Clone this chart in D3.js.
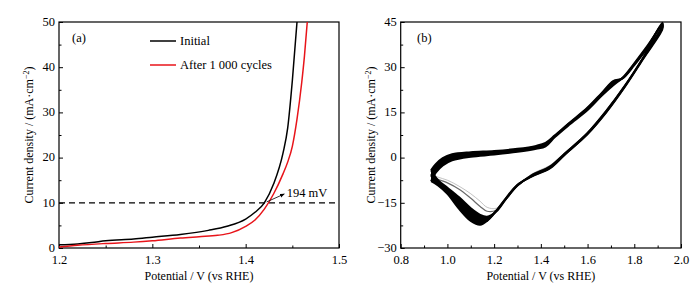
<!DOCTYPE html>
<html>
<head>
<meta charset="utf-8">
<script src="https://cdn.jsdelivr.net/npm/d3@7"></script>
<style>
  body { margin: 0; background: #fff; }
  text { font-family: "Liberation Serif", "DejaVu Serif", serif; fill: #000; }
</style>
</head>
<body>
<div id="chart-area"></div>
<script>
// (a) LSV curves
const lsvInitialV = [1.2, 1.22, 1.235, 1.25, 1.28, 1.3, 1.33, 1.36, 1.38, 1.40, 1.41, 1.42, 1.43, 1.44, 1.445, 1.45, 1.455]
const lsvInitialJ = [0.7, 0.9, 1.2, 1.6, 2.0, 2.4, 3.0, 3.9, 4.8, 6.4, 7.9, 10.0, 14.2, 21, 26.5, 37, 50]
const lsvAfterV = [1.2, 1.22, 1.25, 1.28, 1.3, 1.33, 1.35, 1.37, 1.385, 1.40, 1.41, 1.42, 1.43, 1.44, 1.445, 1.45, 1.455, 1.46, 1.463, 1.466]
const lsvAfterJ = [0.2, 0.6, 1.0, 1.3, 1.6, 2.2, 2.5, 2.8, 3.4, 4.8, 6.2, 8.6, 12.0, 16.4, 19.0, 22.5, 28.5, 36.5, 42.5, 50]
const lsvSeries = ["Initial", "After 1 000 cycles"]
const lsvXTicks = [1.2, 1.3, 1.4, 1.5]
const lsvXMinor = [1.25, 1.35, 1.45]
const lsvYTicks = [0, 10, 20, 30, 40, 50]
const lsvYMinor = [5, 15, 25, 35, 45]

// (b) CV cycles: two early (grey) cycles, then three late (black) cycles
const cvAnodicV = [0.93, 0.95, 0.98, 1.02, 1.1, 1.2, 1.3, 1.38, 1.42, 1.46, 1.52, 1.6, 1.66, 1.71, 1.75, 1.8, 1.86, 1.92]
const cvCathodicV = [1.92, 1.84, 1.76, 1.68, 1.6, 1.5, 1.44, 1.36, 1.3, 1.25, 1.21, 1.17, 1.14, 1.1, 1.05, 1.0, 0.96, 0.93]
const cvAnodic1 = [-5.5, -3.2, -1.0, 0.4, 1.3, 1.8, 2.5, 3.5, 4.4, 7.4, 11.4, 16.8, 21.6, 25.6, 26.2, 30.8, 37.0, 44.5]
const cvAnodic2 = [-6, -3.6, -1.4, 0.1, 1.1, 1.6, 2.4, 3.4, 4.3, 7.2, 11.3, 16.5, 21.3, 25.3, 26.2, 30.9, 37.1, 44.4]
const cvAnodic3 = [-4.2, -2.2, -0.2, 1.1, 1.8, 2.2, 2.9, 3.9, 4.9, 7.4, 11.4, 16.6, 21.4, 25.4, 26.3, 30.7, 36.9, 44.8]
const cvAnodic4 = [-6, -3.6, -1.4, 0.1, 1.1, 1.6, 2.4, 3.4, 4.3, 7.1, 11.2, 16.2, 20.9, 24.6, 26.4, 31.0, 37.2, 44.4]
const cvAnodic5 = [-7.8, -5.0, -2.6, -0.9, 0.3, 1.0, 1.9, 2.9, 3.7, 6.8, 10.8, 15.8, 20.5, 24, 26.5, 31.3, 37.5, 44]
const cvCathodic1 = [44, 33.5, 24, 15.8, 8.5, 1.5, -2.5, -5.5, -9.5, -13.8, -16.8, -16.5, -14.5, -12, -9.5, -7.5, -6.5, -5.5]
const cvCathodic2 = [43.8, 33.4, 23.9, 15.6, 8.3, 1.3, -2.8, -5.8, -9.4, -13.9, -17.4, -17.8, -16.2, -13.5, -10.5, -8.4, -7.2, -6]
const cvCathodic3 = [43.8, 33.4, 23.9, 15.5, 8.2, 1.2, -2.9, -5.9, -9.3, -13.8, -17.8, -19.6, -19.0, -16.8, -13.2, -10, -7.5, -4.2]
const cvCathodic4 = [43.2, 33.2, 23.7, 15.2, 7.9, 0.9, -3.3, -6.2, -9.1, -13.7, -17.7, -20.8, -21.2, -19.2, -15.2, -11, -8.4, -6]
const cvCathodic5 = [42.6, 33, 23.5, 15, 7.8, 0.8, -3.5, -6.3, -9, -13.5, -17.5, -21, -22.3, -21, -17, -12, -9.2, -7.8]
const cvXTicks = [0.8, 1.0, 1.2, 1.4, 1.6, 1.8, 2.0]
const cvXMinor = [0.9, 1.1, 1.3, 1.5, 1.7, 1.9]
const cvYTicks = [-30, -15, 0, 15, 30, 45]
const cvYMinor = [-22.5, -7.5, 7.5, 22.5, 37.5]

const WIDTH = 700
const HEIGHT = 291
const TOP = 22, BOTTOM = 248

const svg = d3.select("#chart-area").append("svg")
  .attr("width", WIDTH)
  .attr("height", HEIGHT)

function drawFrame(x, y, xTicks, xMinor, yTicks, yMinor, xFmt) {
  const [x0, x1] = x.range()
  svg.append("g")
    .attr("transform", `translate(0, ${BOTTOM})`)
    .call(d3.axisBottom(x).tickValues(xTicks).tickFormat(xFmt).tickSizeInner(-4).tickSizeOuter(0).tickPadding(7))
    .call(g => g.select(".domain").remove())
    .call(g => g.selectAll("text").attr("font-size", "12.5px").attr("font-family", null))
  svg.append("g")
    .attr("transform", `translate(0, ${BOTTOM})`)
    .call(d3.axisBottom(x).tickValues(xMinor).tickFormat("").tickSizeInner(-2.5).tickSizeOuter(0))
    .call(g => g.select(".domain").remove())
  svg.append("g")
    .attr("transform", `translate(${x0}, 0)`)
    .call(d3.axisLeft(y).tickValues(yTicks).tickSizeInner(-4).tickSizeOuter(0).tickPadding(4))
    .call(g => g.select(".domain").remove())
    .call(g => g.selectAll("text").attr("font-size", "12.5px").attr("font-family", null).attr("dy", "0.26em"))
  svg.append("g")
    .attr("transform", `translate(${x0}, 0)`)
    .call(d3.axisLeft(y).tickValues(yMinor).tickFormat("").tickSizeInner(-2.5).tickSizeOuter(0))
    .call(g => g.select(".domain").remove())
  svg.append("rect")
    .attr("x", x0).attr("y", TOP)
    .attr("width", x1 - x0).attr("height", BOTTOM - TOP)
    .attr("fill", "none").attr("stroke", "#000").attr("stroke-width", 1.2)
  svg.selectAll(".tick line").attr("stroke", "#000").attr("stroke-width", 1)

  // axis titles
  svg.append("text")
    .attr("x", (x0 + x1) / 2).attr("y", 280)
    .attr("text-anchor", "middle").attr("font-size", "12px")
    .text("Potential / V (vs RHE)")
  const yl = svg.append("text")
    .attr("transform", `translate(${x0 - 26}, ${(TOP + BOTTOM) / 2}) rotate(-90)`)
    .attr("text-anchor", "middle").attr("font-size", "12px")
  yl.append("tspan").text("Current density / (mA·cm")
  yl.append("tspan").attr("font-size", "8px").attr("dy", -4).text("−2")
  yl.append("tspan").attr("dy", 4).text(")")
}

// ---- panel (a)
const xA = d3.scaleLinear().domain([1.2, 1.5]).range([59, 339])
const yA = d3.scaleLinear().domain([0, 50]).range([BOTTOM, TOP])
drawFrame(xA, yA, lsvXTicks, lsvXMinor, lsvYTicks, lsvYMinor, d3.format(".1f"))

svg.append("line")
  .attr("x1", xA(1.2)).attr("x2", xA(1.5))
  .attr("y1", yA(10)).attr("y2", yA(10))
  .attr("stroke", "#000").attr("stroke-width", 1.2)
  .attr("stroke-dasharray", "6,4")

const lineA = d3.line()
  .x(d => xA(d[0])).y(d => yA(d[1]))
  .curve(d3.curveMonotoneX)

const lsvColors = ["#000", "#e8141a"]
const lsvData = [
  d3.zip(lsvInitialV, lsvInitialJ),
  d3.zip(lsvAfterV, lsvAfterJ)
]
svg.append("g").selectAll("path")
  .data(lsvData)
  .enter().append("path")
  .attr("d", lineA)
  .attr("fill", "none")
  .attr("stroke", (d, i) => lsvColors[i])
  .attr("stroke-width", 1.5)

// legend
lsvSeries.forEach((name, i) => {
  const ly = 41 + i * 24
  svg.append("line")
    .attr("x1", 150).attr("x2", 176).attr("y1", ly).attr("y2", ly)
    .attr("stroke", lsvColors[i]).attr("stroke-width", 1.5)
  svg.append("text")
    .attr("x", 180).attr("y", ly + 4)
    .attr("font-size", "12.5px")
    .text(name)
})

svg.append("text").attr("x", 72).attr("y", 42).attr("font-size", "12.5px").text("(a)")

// annotation arrow
svg.append("defs").append("marker")
  .attr("id", "arrow").attr("viewBox", "0 0 10 10")
  .attr("refX", 9).attr("refY", 5)
  .attr("markerWidth", 6).attr("markerHeight", 6)
  .attr("orient", "auto")
  .append("path").attr("d", "M0,1 L10,5 L0,9 Z").attr("fill", "#000")
svg.append("line")
  .attr("x1", xA(1.4225)).attr("y1", yA(10.2))
  .attr("x2", xA(1.4414)).attr("y2", yA(11.95))
  .attr("stroke", "#000").attr("stroke-width", 0.8)
  .attr("marker-end", "url(#arrow)")
svg.append("text")
  .attr("x", xA(1.444)).attr("y", 197)
  .attr("font-size", "12.5px")
  .text("194 mV")

// ---- panel (b)
const xB = d3.scaleLinear().domain([0.8, 2.0]).range([400.7, 681])
const yB = d3.scaleLinear().domain([-30, 45]).range([BOTTOM, TOP])
drawFrame(xB, yB, cvXTicks, cvXMinor, cvYTicks, cvYMinor, d3.format(".1f"))

const curveB = d3.curveCatmullRom.alpha(0.5)
const lineB = d3.line()
  .x(d => xB(d[0])).y(d => yB(d[1]))
  .curve(curveB)

const cvCycles = [
  [cvAnodic1, cvCathodic1],
  [cvAnodic2, cvCathodic2],
  [cvAnodic3, cvCathodic3],
  [cvAnodic4, cvCathodic4],
  [cvAnodic5, cvCathodic5]
]
const cvColors = ["#b4b4b4", "#6a6a6a", "#000", "#000", "#000"]
const cvWidths = [0.8, 1.2, 2, 2, 2]

// early cycles (thin, grey)
const gB = svg.append("g")
gB.selectAll("path.early")
  .data(cvCycles.slice(0, 2))
  .enter().append("path")
  .attr("class", "early")
  .attr("d", c => lineB(d3.zip(cvAnodicV, c[0]).concat(d3.zip(cvCathodicV, c[1]))))
  .attr("fill", "none")
  .attr("stroke", (d, i) => cvColors[i])
  .attr("stroke-width", (d, i) => cvWidths[i])

// band swept by the later cycles (between cycle 3 and cycle 5)
const bandB = d3.area()
  .x(d => xB(d[0])).y0(d => yB(d[1])).y1(d => yB(d[2]))
  .curve(curveB)
gB.append("path")
  .attr("d", bandB(d3.zip(cvAnodicV, cvAnodic3, cvAnodic5)))
  .attr("fill", "#000")
gB.append("path")
  .attr("d", bandB(d3.zip(cvCathodicV, cvCathodic3, cvCathodic5)))
  .attr("fill", "#000")

gB.selectAll("path.late")
  .data(cvCycles.slice(2))
  .enter().append("path")
  .attr("class", "late")
  .attr("d", c => lineB(d3.zip(cvAnodicV, c[0]).concat(d3.zip(cvCathodicV, c[1]))))
  .attr("fill", "none")
  .attr("stroke", (d, i) => cvColors[i + 2])
  .attr("stroke-width", (d, i) => cvWidths[i + 2])
  .attr("stroke-linejoin", "round")

svg.append("text").attr("x", 417).attr("y", 42).attr("font-size", "12.5px").text("(b)")
</script>
</body>
</html>
